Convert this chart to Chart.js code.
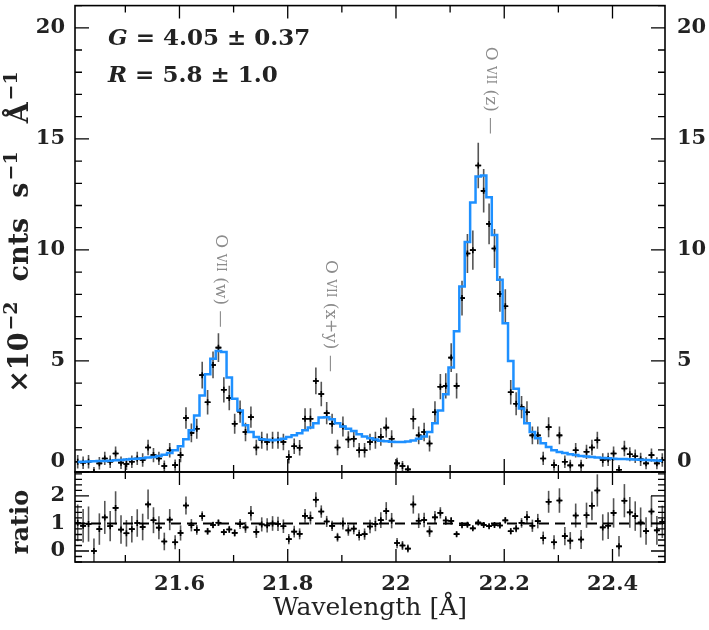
<!DOCTYPE html>
<html>
<head>
<meta charset="utf-8">
<script src="https://cdn.jsdelivr.net/npm/chart.js@4.4.1/dist/chart.umd.min.js"></script>
<style>
  body { margin: 0; background: #fff; }
  #wrap { position: relative; width: 709px; height: 630px; }
  canvas { position: absolute; left: 0; top: 0; }
</style>
</head>
<body>
<div id="wrap">
  <canvas id="spec" width="709" height="630"></canvas>
  <canvas id="ratio" width="709" height="630"></canvas>
</div>
<script>
// spectrum, 0.01 A bins starting at 21.407 A (x10^-2 cnts/s/A)
const counts = [
  0.46, 0.42, 0.46, 0.00, 0.39, 0.61, 0.46, 0.83, 0.42, 0.36,
  0.46, 0.61, 0.54, 1.10, 0.76, 0.61, 0.27, 0.98, 0.31, 0.76,
  2.43, 1.76, 1.95, 4.36, 3.14, 4.82, 5.60, 3.70, 3.33, 2.17,
  2.72, 1.80, 2.47, 1.10, 1.43, 1.35, 1.43, 1.43, 1.35, 0.68,
  1.16, 1.09, 2.40, 2.40, 4.10, 3.51, 2.65, 2.17, 1.10, 2.05,
  1.46, 1.50, 0.98, 0.98, 1.35, 1.43, 1.58, 2.00, 1.50, 0.39,
  0.27, 0.12, 2.40, 1.65, 1.80, 1.28, 2.69, 3.84, 3.88, 5.15,
  3.88, 7.83, 9.84, 9.99, 13.80, 12.66, 11.17, 10.06, 8.02, 7.46,
  3.59, 3.07, 2.92, 2.69, 1.65, 1.65, 0.61, 2.02, 0.31, 1.65,
  0.46, 0.30, 0.98, 0.30, 0.91, 1.10, 1.43, 0.54, 0.57, 0.83,
  0.10, 1.06, 0.80, 0.71, 0.57, 0.39, 0.76, 0.39, 0.54
];
const errors = [
  0.30, 0.28, 0.30, 0.22, 0.28, 0.30, 0.28, 0.32, 0.28, 0.27,
  0.28, 0.30, 0.30, 0.35, 0.32, 0.30, 0.25, 0.33, 0.25, 0.32,
  0.48, 0.42, 0.45, 0.60, 0.55, 0.60, 0.65, 0.57, 0.55, 0.45,
  0.50, 0.42, 0.48, 0.35, 0.38, 0.38, 0.38, 0.38, 0.37, 0.30,
  0.35, 0.35, 0.47, 0.47, 0.60, 0.55, 0.50, 0.45, 0.35, 0.45,
  0.38, 0.38, 0.33, 0.33, 0.37, 0.38, 0.40, 0.45, 0.38, 0.25,
  0.22, 0.20, 0.47, 0.40, 0.42, 0.36, 0.50, 0.57, 0.57, 0.65,
  0.57, 0.78, 0.88, 0.88, 1.02, 0.98, 0.92, 0.88, 0.80, 0.77,
  0.55, 0.52, 0.50, 0.50, 0.40, 0.40, 0.30, 0.45, 0.25, 0.40,
  0.28, 0.25, 0.33, 0.25, 0.32, 0.35, 0.38, 0.30, 0.30, 0.32,
  0.22, 0.35, 0.32, 0.30, 0.30, 0.27, 0.30, 0.27, 0.30
];
const model = [
  0.45, 0.46, 0.47, 0.48, 0.49, 0.50, 0.51, 0.53, 0.54, 0.56,
  0.58, 0.60, 0.62, 0.65, 0.68, 0.72, 0.78, 0.86, 0.98, 1.16,
  1.47, 1.88, 2.54, 3.44, 4.40, 5.10, 5.45, 5.40, 4.25, 3.30,
  2.77, 2.10, 1.80, 1.58, 1.48, 1.45, 1.43, 1.45, 1.50, 1.58,
  1.65, 1.75, 1.88, 2.00, 2.20, 2.45, 2.47, 2.38, 2.20, 2.05,
  1.95, 1.85, 1.70, 1.60, 1.52, 1.46, 1.41, 1.38, 1.36, 1.35,
  1.35, 1.37, 1.42, 1.50, 1.60, 1.80, 2.20, 2.77, 3.50, 4.70,
  6.34, 8.35, 10.36, 12.14, 13.30, 13.35, 12.37, 10.67, 8.66, 6.70,
  5.00, 3.75, 2.86, 2.19, 1.80, 1.52, 1.29, 1.13, 0.98, 0.90,
  0.85, 0.80, 0.76, 0.72, 0.70, 0.67, 0.65, 0.63, 0.62, 0.60,
  0.59, 0.58, 0.57, 0.56, 0.55, 0.54, 0.53, 0.52, 0.51
];
const binWidth = 0.01;
const lambda = counts.map((c, k) => +(21.412 + binWidth * k).toFixed(3));
const ratio = counts.map((c, k) => c / model[k]);
const ratioErr = errors.map((e, k) => e / model[k]);

const xTicks = [21.6, 21.8, 22, 22.2, 22.4];
const xMinor = [21.5, 21.7, 21.9, 22.1, 22.3];
const yTicks = [0, 5, 10, 15, 20];
const ratioTicks = [0, 1, 2];

// line labels
const lineNames = ['(w)', '(x+y)', '(z)'];
const lineWaves = [21.675, 21.878, 22.174];
const lineTops = [10.7, 9.55, 19.15];

const SERIF = 'DejaVu Serif';
const tickFont = { family: SERIF, weight: 'bold', size: 21 };

function rangeTicks(from, to, step) {
  const out = [];
  for (let v = from; v <= to + 1e-9; v += step) out.push(+v.toFixed(3));
  return out;
}

function fixedTicks(list) {
  return s => { s.ticks = list.map(v => ({ value: v })); };
}

// fixed box sizes, no extra room for overhanging labels
function fitY(w) {
  return s => { s.width = w; s.paddingTop = 0; s.paddingBottom = 0; };
}

// error bars (vertical grey, bin width black), drawn under the model
function errorBars(vals, errs) {
  return {
    id: 'errorbars',
    beforeDatasetsDraw(chart) {
      const { ctx, chartArea: a, scales: { x, y } } = chart;
      ctx.save();
      ctx.beginPath();
      ctx.rect(a.left, a.top, a.width, a.height);
      ctx.clip();
      ctx.lineWidth = 1.6;
      vals.forEach((v, k) => {
        const px = x.getPixelForValue(lambda[k]);
        ctx.strokeStyle = '#555';
        ctx.beginPath();
        ctx.moveTo(px, y.getPixelForValue(v - errs[k]));
        ctx.lineTo(px, y.getPixelForValue(v + errs[k]));
        ctx.stroke();
        const py = y.getPixelForValue(v);
        ctx.strokeStyle = '#000';
        ctx.beginPath();
        ctx.moveTo(x.getPixelForValue(lambda[k] - binWidth / 2), py);
        ctx.lineTo(x.getPixelForValue(lambda[k] + binWidth / 2), py);
        ctx.stroke();
      });
      ctx.restore();
    }
  };
}

// box with inward ticks
function frame(major, minor) {
  return {
    id: 'frame',
    afterDraw(chart) {
      const { ctx, chartArea: a, scales: { x, y } } = chart;
      ctx.save();
      ctx.strokeStyle = '#000';
      ctx.lineWidth = 1.3;
      ctx.beginPath();
      xTicks.concat(xMinor).forEach(v => {
        const len = xTicks.includes(v) ? 13 : 7;
        const px = x.getPixelForValue(v);
        ctx.moveTo(px, a.top); ctx.lineTo(px, a.top + len);
        ctx.moveTo(px, a.bottom); ctx.lineTo(px, a.bottom - len);
      });
      major.concat(minor).forEach(v => {
        const len = major.includes(v) ? 14 : 7;
        const py = y.getPixelForValue(v);
        if (py < a.top || py > a.bottom) return;
        ctx.moveTo(a.left, py); ctx.lineTo(a.left + len, py);
        ctx.moveTo(a.right, py); ctx.lineTo(a.right - len, py);
      });
      ctx.stroke();
      ctx.lineWidth = 1.6;
      ctx.strokeRect(a.left, a.top, a.width, a.height);
      ctx.restore();
    }
  };
}

// rotated text made of pieces: [text, size, raise, gap after]
function vText(ctx, parts, cx, cy, angle) {
  ctx.save();
  let total = 0;
  parts.forEach(p => {
    ctx.font = 'bold ' + p[1] + 'px "' + SERIF + '"';
    total += ctx.measureText(p[0]).width + (p[3] || 0);
  });
  ctx.translate(cx, cy);
  ctx.rotate(angle);
  ctx.textBaseline = 'alphabetic';
  ctx.textAlign = 'left';
  let pos = -total / 2;
  parts.forEach(p => {
    ctx.font = 'bold ' + p[1] + 'px "' + SERIF + '"';
    ctx.fillText(p[0], pos, 9 - p[2]);
    pos += ctx.measureText(p[0]).width + (p[3] || 0);
  });
  ctx.restore();
}

const specText = {
  id: 'specText',
  afterDraw(chart) {
    const { ctx, chartArea: a, scales: { x, y } } = chart;
    ctx.save();
    ctx.fillStyle = '#222';
    // raised zero labels
    ctx.font = 'bold 21px "' + SERIF + '"';
    ctx.textBaseline = 'middle';
    ctx.textAlign = 'right';
    ctx.fillText('0', a.left - 10, y.getPixelForValue(0) - 10);
    ctx.textAlign = 'left';
    ctx.fillText('0', a.right + 12, y.getPixelForValue(0) - 10);
    // G and R ratios
    ctx.textBaseline = 'alphabetic';
    [['G', ' = 4.05 ± 0.37', 45], ['R', ' = 5.8 ± 1.0', 82]].forEach(r => {
      ctx.font = 'italic bold 23px "' + SERIF + '"';
      ctx.fillText(r[0], a.left + 33, r[2]);
      const w = ctx.measureText(r[0]).width;
      ctx.font = 'bold 23px "' + SERIF + '"';
      ctx.fillText(r[1], a.left + 33 + w, r[2]);
    });
    // y title
    ctx.fillStyle = '#222';
    vText(ctx, [['×10', 27, 0, 2], ['−2', 19, 11, 20], ['cnts', 27, 0, 20], ['s', 27, 0, 2],
                ['−1', 19, 11, 28], ['Å', 27, 0, 2], ['−1', 19, 11, 0]], 19, 232, -Math.PI / 2);
    // line labels
    ctx.fillStyle = '#8c8c8c';
    ctx.textBaseline = 'middle';
    lineNames.forEach((name, i) => {
      ctx.save();
      ctx.translate(x.getPixelForValue(lineWaves[i]), y.getPixelForValue(lineTops[i]));
      ctx.rotate(Math.PI / 2);
      let pos = 0;
      [['O ', 17], ['VII', 12], [' ' + name + ' —', 17]].forEach(p => {
        ctx.font = p[1] + 'px "' + SERIF + '"';
        ctx.fillText(p[0], pos, 0);
        pos += ctx.measureText(p[0]).width;
      });
      ctx.restore();
    });
    ctx.restore();
  }
};

const ratioText = {
  id: 'ratioText',
  beforeDatasetsDraw(chart) {
    const { ctx, chartArea: a, scales: { y } } = chart;
    ctx.save();
    ctx.strokeStyle = '#000';
    ctx.lineWidth = 2;
    ctx.setLineDash([10, 6]);
    ctx.beginPath();
    ctx.moveTo(a.left, y.getPixelForValue(1));
    ctx.lineTo(a.right, y.getPixelForValue(1));
    ctx.stroke();
    ctx.restore();
  },
  afterDraw(chart) {
    const { ctx } = chart;
    ctx.fillStyle = '#222';
    vText(ctx, [['ratio', 24, 0, 0]], 19, 522, -Math.PI / 2);
  }
};

const hidden = { display: false, drawTicks: false };

new Chart(document.getElementById('spec'), {
  type: 'line',
  data: {
    datasets: [
      {
        label: 'model',
        data: lambda.map((x, k) => ({ x: x, y: model[k] })),
        borderColor: '#1e90ff',
        borderWidth: 2.5,
        pointRadius: 0,
        stepped: 'middle',
        fill: false,
        order: 0
      },
      {
        label: 'data',
        type: 'scatter',
        data: lambda.map((x, k) => ({ x: x, y: counts[k] })),
        pointStyle: 'cross',
        pointRadius: 3,
        borderColor: '#000',
        borderWidth: 1.6,
        order: 1
      }
    ]
  },
  options: {
    responsive: false,
    animation: false,
    layout: { padding: { top: 2, bottom: 158 } },
    plugins: { legend: { display: false }, tooltip: { enabled: false } },
    scales: {
      x: { type: 'linear', min: 21.407, max: 22.497, display: false },
      y: {
        position: 'left', min: 0, max: 21,
        afterFit: fitY(75),
        afterBuildTicks: fixedTicks(yTicks),
        grid: hidden, border: { display: false },
        ticks: { padding: 10, font: tickFont, color: '#222', callback: v => v === 0 ? '' : v }
      },
      y2: {
        position: 'right', min: 0, max: 21,
        afterFit: fitY(44),
        afterBuildTicks: fixedTicks(yTicks),
        grid: hidden, border: { display: false },
        ticks: { padding: 12, font: tickFont, color: '#222', callback: v => v === 0 ? '' : v }
      }
    }
  },
  plugins: [errorBars(counts, errors), frame(yTicks, rangeTicks(0, 21, 1)), specText]
});

new Chart(document.getElementById('ratio'), {
  type: 'scatter',
  data: {
    datasets: [{
      label: 'ratio',
      data: lambda.map((x, k) => ({ x: x, y: ratio[k] })),
      pointStyle: 'cross',
      pointRadius: 3,
      borderColor: '#000',
      borderWidth: 1.6
    }]
  },
  options: {
    responsive: false,
    animation: false,
    layout: { padding: { top: 472 } },
    plugins: { legend: { display: false }, tooltip: { enabled: false } },
    scales: {
      x: {
        type: 'linear', position: 'bottom', min: 21.407, max: 22.497,
        afterFit: s => { s.height = 68; s.paddingLeft = 0; s.paddingRight = 0; },
        afterBuildTicks: fixedTicks(xTicks),
        grid: hidden, border: { display: false },
        ticks: { padding: 10, font: tickFont, color: '#222', callback: v => String(v) },
        title: {
          display: true, text: 'Wavelength [Å]', color: '#222',
          font: { family: SERIF, size: 25 }, padding: { top: 0, bottom: 7 }
        }
      },
      y: {
        position: 'left', min: -0.4, max: 2.87,
        afterFit: fitY(75),
        afterBuildTicks: fixedTicks(ratioTicks),
        grid: hidden, border: { display: false },
        ticks: { padding: 10, font: tickFont, color: '#222' }
      },
      y2: {
        position: 'right', min: -0.4, max: 2.87,
        afterFit: fitY(44),
        grid: hidden, border: { display: false },
        ticks: { display: false }
      }
    }
  },
  plugins: [errorBars(ratio, ratioErr), frame(ratioTicks, rangeTicks(-0.4, 2.8, 0.2)), ratioText]
});
</script>
</body>
</html>
